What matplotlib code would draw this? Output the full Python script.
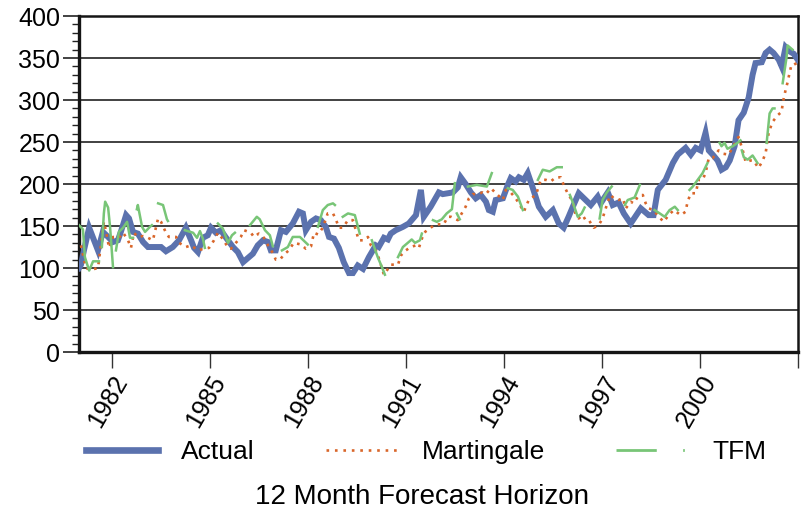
"""Actual series vs. Martingale and TFM forecasts at a 12 month horizon."""

import matplotlib
matplotlib.use("Agg")
import matplotlib.pyplot as plt
import numpy as np
from matplotlib.lines import Line2D
from matplotlib.ticker import MultipleLocator

plt.rcParams["font.family"] = ["Liberation Sans", "DejaVu Sans"]

_BLUE = "#5b72ae"
_ORANGE = "#d9662a"
_GREEN = "#78c577"
_GRID = "#333333"

# Actual series (decimal year, value)
actual_years = [
    1981.00, 1981.06, 1981.15, 1981.31, 1981.46, 1981.58, 1981.73, 1981.89,
    1982.04, 1982.19, 1982.28, 1982.44, 1982.53, 1982.65, 1982.80, 1982.96,
    1983.11, 1983.29, 1983.51, 1983.66, 1983.87, 1984.06, 1984.27, 1984.43,
    1984.52, 1984.64, 1984.79, 1984.94, 1985.04, 1985.19, 1985.34, 1985.50,
    1985.71, 1985.86, 1986.02, 1986.17, 1986.32, 1986.47, 1986.63, 1986.78,
    1986.87, 1987.02, 1987.18, 1987.33, 1987.54, 1987.73, 1987.85, 1987.94,
    1988.10, 1988.25, 1988.40, 1988.55, 1988.65, 1988.80, 1988.95, 1989.10,
    1989.26, 1989.38, 1989.53, 1989.69, 1989.87, 1990.08, 1990.17, 1990.33,
    1990.45, 1990.54, 1990.69, 1990.91, 1991.09, 1991.31, 1991.46, 1991.55,
    1991.76, 1992.01, 1992.13, 1992.44, 1992.59, 1992.68, 1992.83, 1992.99,
    1993.14, 1993.29, 1993.45, 1993.54, 1993.66, 1993.75, 1993.97, 1994.12,
    1994.21, 1994.36, 1994.46, 1994.61, 1994.73, 1994.88, 1995.07, 1995.28,
    1995.50, 1995.68, 1995.83, 1995.98, 1996.11, 1996.29, 1996.50, 1996.66,
    1996.87, 1996.96, 1997.18, 1997.33, 1997.51, 1997.67, 1997.88, 1998.19,
    1998.43, 1998.58, 1998.71, 1998.95, 1999.17, 1999.32, 1999.56, 1999.72,
    1999.87, 2000.02, 2000.17, 2000.27, 2000.39, 2000.54, 2000.66, 2000.79,
    2000.91, 2001.06, 2001.18, 2001.34, 2001.49, 2001.61, 2001.70, 2001.89,
    2002.01, 2002.13, 2002.25, 2002.41, 2002.50, 2002.62, 2002.74, 2002.87,
    2002.99,
]
actual_values = [
    100, 104, 121, 148, 133, 121, 143, 137,
    131, 133, 143, 163, 159, 143, 141, 131,
    125, 125, 125, 120, 125, 133, 148, 133,
    124, 119, 136, 139, 148, 142, 145, 136,
    125, 119, 107, 112, 117, 127, 133, 131,
    121, 121, 145, 143, 153, 167, 165, 145,
    155, 159, 157, 149, 137, 135, 124, 107,
    94, 94, 103, 99, 113, 127, 125, 136,
    134, 141, 145, 149, 153, 163, 193, 161,
    173, 190, 188, 190, 196, 208, 200, 190,
    183, 187, 179, 169, 167, 181, 183, 199,
    207, 203, 208, 205, 213, 196, 173, 161,
    169, 153, 148, 161, 173, 189, 181, 175,
    185, 177, 190, 175, 178, 165, 153, 171,
    163, 163, 193, 205, 225, 235, 243, 235,
    243, 240, 261, 240, 235, 228, 217, 220,
    228, 245, 276, 285, 303, 330, 344, 345,
    356, 360, 356, 348, 340, 363, 358, 355,
    348,
]

# Martingale forecast
martingale_years = [
    1981.06, 1981.21, 1981.37, 1981.58, 1981.76, 1981.83, 1981.92, 1982.04,
    1982.22, 1982.35, 1982.50, 1982.59, 1982.68, 1982.80, 1982.96, 1983.11,
    1983.26, 1983.42, 1983.51, 1983.66, 1983.75, 1983.97, 1984.06, 1984.27,
    1984.43, 1984.64, 1984.82, 1984.98, 1985.13, 1985.25, 1985.43, 1985.56,
    1985.65, 1985.95, 1986.05, 1986.26, 1986.35, 1986.50, 1986.66, 1986.81,
    1986.93, 1987.02, 1987.15, 1987.27, 1987.42, 1987.57, 1987.79, 1987.94,
    1988.10, 1988.19, 1988.31, 1988.46, 1988.61, 1988.77, 1988.86, 1988.95,
    1989.07, 1989.23, 1989.38, 1989.56, 1989.72, 1989.84, 1989.93, 1990.08,
    1990.17, 1990.33, 1990.54, 1990.76, 1990.85, 1991.00, 1991.15, 1991.31,
    1991.40, 1991.55, 1991.70, 1991.86, 1992.01, 1992.16, 1992.28, 1992.38,
    1992.59, 1992.83, 1992.93, 1993.05, 1993.20, 1993.35, 1993.45, 1993.60,
    1993.97, 1994.06, 1994.21, 1994.36, 1994.46, 1994.61, 1994.76, 1994.98,
    1995.13, 1995.28, 1995.43, 1995.59, 1995.74, 1995.83, 1995.95, 1996.11,
    1996.20, 1996.29, 1996.41, 1996.50, 1996.60, 1996.75, 1996.90, 1997.02,
    1997.18, 1997.27, 1997.36, 1997.51, 1997.64, 1997.73, 1997.88, 1997.97,
    1998.10, 1998.25, 1998.34, 1998.43, 1998.58, 1998.74, 1998.89, 1999.04,
    1999.20, 1999.41, 1999.56, 1999.62, 1999.72, 1999.87, 1999.96, 2000.08,
    2000.17, 2000.27, 2000.39, 2000.57, 2000.72, 2000.88, 2001.03, 2001.18,
    2001.31, 2001.40, 2001.55, 2001.64, 2001.79, 2001.92, 2002.01, 2002.10,
    2002.22, 2002.38, 2002.50, 2002.53, 2002.62, 2002.68, 2002.74, 2002.80,
    2002.87, 2002.96,
]
martingale_values = [
    127, 100, 98, 100, 155, 143, 124, 137,
    136, 142, 133, 124, 142, 137, 138, 136,
    133, 159, 155, 142, 137, 137, 130, 125,
    127, 121, 123, 124, 133, 142, 133, 124,
    123, 137, 145, 142, 137, 141, 136, 125,
    118, 110, 110, 116, 121, 130, 128, 123,
    126, 142, 140, 148, 165, 165, 158, 148,
    148, 157, 157, 133, 133, 137, 127, 121,
    112, 92, 104, 104, 115, 121, 125, 127,
    124, 142, 146, 151, 152, 152, 161, 161,
    157, 173, 183, 188, 188, 190, 188, 195,
    181, 193, 190, 183, 177, 167, 181, 187,
    205, 205, 203, 208, 208, 199, 189, 179,
    163, 159, 163, 157, 157, 148, 151, 159,
    179, 187, 183, 181, 183, 171, 179, 177,
    185, 187, 177, 171, 169, 161, 155, 163,
    169, 163, 167, 179, 189, 189, 205, 205,
    213, 231, 231, 240, 236, 235, 246, 256,
    240, 226, 228, 228, 219, 228, 237, 261,
    274, 282, 286, 296, 312, 321, 332, 342,
    342, 344,
]

# TFM forecast, one re-estimated stretch at a time (NaN breaks the line)
nan = np.nan
tfm_years = [
    1981.00, 1981.12, 1981.18, 1981.31, 1981.43, 1981.61, nan,
    1981.70, 1981.76, 1981.80, 1981.89, 1981.95, 1982.04, nan,
    1982.13, 1982.22, 1982.35, 1982.47, 1982.56, 1982.65, nan,
    1982.77, 1982.80, 1982.93, 1983.02, 1983.17, 1983.23, nan,
    1983.42, 1983.57, 1983.69, 1983.72, nan,
    1984.24, 1984.49, 1984.61, 1984.70, 1984.79, 1984.85, nan,
    1985.25, 1985.40, 1985.56, 1985.68, 1985.77, nan,
    1986.23, 1986.44, 1986.53, 1986.69, 1986.84, 1986.93, nan,
    1987.21, 1987.39, 1987.54, 1987.76, 1988.00, nan,
    1988.31, 1988.46, 1988.61, 1988.77, 1988.83, nan,
    1989.07, 1989.23, 1989.44, 1989.59, nan,
    1989.96, 1990.14, 1990.27, 1990.36, nan,
    1990.76, 1990.91, 1991.18, 1991.28, 1991.43, 1991.49, nan,
    1991.83, 1991.95, 1992.10, 1992.25, 1992.41, 1992.50, nan,
    1992.56, 1992.65, nan,
    1992.90, 1993.17, 1993.48, 1993.63, nan,
    1994.12, 1994.27, 1994.43, 1994.58, nan,
    1995.04, 1995.19, 1995.40, 1995.62, 1995.77, nan,
    1996.02, 1996.11, 1996.26, 1996.38, 1996.47, nan,
    1996.93, 1997.02, 1997.15, 1997.30, nan,
    1997.70, 1997.79, 1998.00, 1998.16, nan,
    1998.61, 1998.77, 1998.92, 1999.07, 1999.23, 1999.32, nan,
    1999.68, 1999.78, 1999.93, 2000.08, 2000.23, nan,
    2000.60, 2000.66, 2000.75, 2000.84, 2001.00, 2001.15, 2001.24, nan,
    2001.28, 2001.34, 2001.46, 2001.61, 2001.76, nan,
    2002.04, 2002.13, 2002.22, 2002.28, nan,
    2002.53, 2002.65, 2002.68, 2002.83,
]
tfm_values = [
    151, 146, 113, 97, 108, 108, nan,
    125, 165, 179, 172, 149, 101, nan,
    121, 143, 148, 155, 136, 136, nan,
    170, 175, 149, 143, 149, 151, nan,
    177, 175, 158, 156, nan,
    145, 142, 136, 144, 135, 124, nan,
    153, 147, 130, 139, 142, nan,
    151, 161, 158, 145, 139, 126, nan,
    121, 125, 137, 137, 128, nan,
    149, 169, 175, 177, 175, nan,
    161, 165, 163, 141, nan,
    133, 113, 101, 92, nan,
    113, 125, 134, 130, 133, 141, nan,
    157, 155, 158, 165, 170, 201, nan,
    165, 158, nan,
    197, 199, 197, 213, nan,
    195, 193, 185, 169, nan,
    205, 217, 215, 220, 220, nan,
    187, 178, 161, 165, 172, nan,
    159, 181, 190, 197, nan,
    175, 181, 184, 199, nan,
    169, 165, 161, 169, 173, 169, nan,
    193, 197, 205, 213, 225, nan,
    249, 245, 249, 242, 245, 249, 252, nan,
    240, 232, 229, 234, 225, nan,
    249, 284, 290, 290, nan,
    320, 351, 365, 360,
]

year_ticks = [1982, 1985, 1988, 1991, 1994, 1997, 2000, 2003]
year_labels = ["1982", "1985", "1988", "1991", "1994", "1997", "2000", ""]


def main() -> None:
    fig = plt.figure(figsize=(8.03, 5.17), dpi=100)
    ax = fig.add_axes([0.0984, 0.3191, 0.8954, 0.6499])

    ax.plot(actual_years, actual_values, color=_BLUE, lw=4.3,
            solid_joinstyle="miter", zorder=3)
    ax.plot(martingale_years, martingale_values, color=_ORANGE, lw=1.9,
            linestyle=(0, (1, 2)), zorder=4)
    ax.plot(tfm_years, tfm_values, color=_GREEN, lw=1.8, zorder=5)

    ax.set_xlim(1981, 2003)
    ax.set_ylim(0, 400)
    ax.set_xticks(year_ticks)
    ax.set_xticklabels(year_labels, rotation=60, ha="right",
                       rotation_mode="anchor")
    ax.yaxis.set_major_locator(MultipleLocator(50))
    ax.yaxis.set_minor_locator(MultipleLocator(10))
    ax.grid(axis="y", color=_GRID, lw=1.3)
    ax.set_axisbelow(True)

    ax.tick_params(axis="y", which="major", length=11.5, width=1.2,
                   labelsize=18, pad=2, color="#222222")
    ax.tick_params(axis="y", which="minor", length=5, width=1.0,
                   color="#222222")
    ax.tick_params(axis="x", length=11.5, width=1.0, labelsize=18, pad=2.5,
                   color="#333333")

    for side in ("left", "bottom"):
        ax.spines[side].set_linewidth(2.4)
    for side in ("top", "right"):
        ax.spines[side].set_linewidth(1.8)
    for sp in ax.spines.values():
        sp.set_color("#151515")

    handles = [
        Line2D([], [], color=_BLUE, lw=4.8),
        Line2D([], [], color=_ORANGE, lw=1.9, linestyle=(0, (1, 2.2))),
        Line2D([], [], color=_GREEN, lw=2.0,
               linestyle=(0, (14.5, 9.5, 0.6, 9.5))),
    ]
    fig.legend(handles, ["Actual", "Martingale", "TFM"], ncol=3,
               loc="center left", bbox_to_anchor=(0.107, 0.126),
               frameon=False, fontsize=19, handlelength=2.75,
               handletextpad=0.87, columnspacing=2.7, borderpad=0,
               borderaxespad=0)

    fig.text(0.526, 0.039, "12 Month Forecast Horizon", fontsize=20,
             ha="center", va="center")

    fig.savefig("out.png", dpi=100)
    plt.close(fig)


if __name__ == "__main__":
    main()
